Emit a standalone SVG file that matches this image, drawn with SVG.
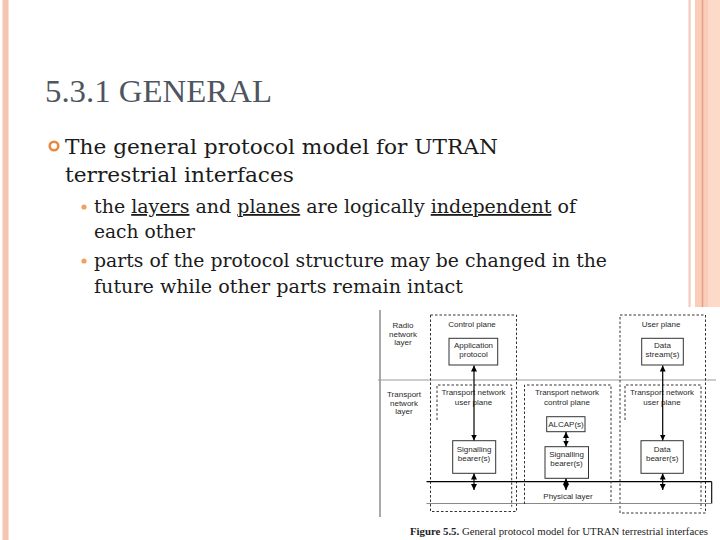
<svg xmlns="http://www.w3.org/2000/svg" width="720" height="540" viewBox="0 0 720 540">
<style>
.body{font-family:"DejaVu Serif","Liberation Serif",serif;fill:#1b1b1b}
.title{font-family:"Liberation Serif","DejaVu Serif",serif;fill:#4e5560;font-size:32px}
.u{text-decoration:underline}
.lbl{font-family:"Liberation Sans",Arial,sans-serif;font-size:8px;fill:#2a2a2a;text-anchor:middle}
.box{fill:#fff;stroke:#333;stroke-width:1}
.dash{fill:none;stroke:#333;stroke-width:1;stroke-dasharray:2.5,2}
.arr{stroke:#000;stroke-width:1.2;fill:none;marker-start:url(#ah);marker-end:url(#ah)}
.cap{font-family:"Liberation Serif","Times New Roman",serif;font-size:9.5px;fill:#222}
</style>
<defs>
<marker id="ah" viewBox="0 0 6 6" refX="6" refY="3" markerWidth="6" markerHeight="6" markerUnits="userSpaceOnUse" orient="auto-start-reverse">
<path d="M0,0 L6,3 L0,6 z" fill="#000"/>
</marker>
</defs>
<rect width="720" height="540" fill="#fff"/>
<!-- decorative borders -->
<rect x="2.5" y="0" width="6" height="540" fill="#f6c4b1"/>
<rect x="688.5" y="0" width="2.2" height="540" fill="#f4cabb"/>
<rect x="695" y="0" width="25" height="540" fill="#fbcdb8"/>
<rect x="708" y="0" width="12" height="540" fill="#fcd9c9"/>
<rect x="701.7" y="0" width="1.6" height="540" fill="#e9a185"/>
<!-- slide text -->
<text class="title" x="45" y="102" textLength="227" lengthAdjust="spacingAndGlyphs">5.3.1 GENERAL</text>
<circle cx="54" cy="146" r="4.3" fill="#fff" stroke="#e8893e" stroke-width="2.6"/>
<text class="body" font-size="21" x="65" y="154" textLength="433" lengthAdjust="spacingAndGlyphs">The general protocol model for UTRAN</text>
<text class="body" font-size="21" x="65" y="182" textLength="229" lengthAdjust="spacingAndGlyphs">terrestrial interfaces</text>
<circle cx="84" cy="207" r="2.6" fill="#f0a064"/>
<text class="body" font-size="18" x="94" y="213" textLength="482" lengthAdjust="spacingAndGlyphs">the <tspan class="u">layers</tspan> and <tspan class="u">planes</tspan> are logically <tspan class="u">independent</tspan> of</text>
<text class="body" font-size="18" x="94" y="238" textLength="101" lengthAdjust="spacingAndGlyphs">each other</text>
<circle cx="84" cy="261" r="2.6" fill="#f0a064"/>
<text class="body" font-size="18" x="94" y="267" textLength="513" lengthAdjust="spacingAndGlyphs">parts of the protocol structure may be changed in the</text>
<text class="body" font-size="18" x="94" y="293" textLength="369" lengthAdjust="spacingAndGlyphs">future while other parts remain intact</text>
<!-- figure area -->
<rect x="375" y="307" width="345" height="233" fill="#fff"/>
<g id="layer-lines">
<line x1="380" y1="310" x2="380" y2="517" stroke="#555" stroke-width="1"/>
<line x1="378" y1="380" x2="716" y2="380" stroke="#9a9a9a" stroke-width="1"/>
<text class="lbl" x="403" y="328">Radio</text>
<text class="lbl" x="403" y="336.5">network</text>
<text class="lbl" x="403" y="345">layer</text>
<text class="lbl" x="404" y="397">Transport</text>
<text class="lbl" x="404" y="405.5">network</text>
<text class="lbl" x="404" y="414">layer</text>
</g>
<g id="control-plane">
<rect class="dash" x="430.5" y="315" width="86" height="196.5"/>
<text class="lbl" x="472" y="327">Control plane</text>
</g>
<g id="user-plane">
<rect class="dash" x="620" y="315" width="85.5" height="198"/>
<text class="lbl" x="661" y="327">User plane</text>
</g>
<g id="physical-layer">
<line x1="426.5" y1="481.7" x2="711.7" y2="481.7" stroke="#000" stroke-width="1.3"/>
<line x1="711.7" y1="481.7" x2="711.7" y2="503.5" stroke="#000" stroke-width="1.1"/>
<line x1="426.5" y1="503.5" x2="711.7" y2="503.5" stroke="#888" stroke-width="1"/>
<text class="lbl" x="568" y="499">Physical layer</text>
</g>
<g id="tn-user-plane-left">
<path class="dash" d="M437,420 V385 H511.7 V506.7"/>
<text class="lbl" x="473.5" y="395">Transport network</text>
<text class="lbl" x="473.5" y="404.5">user plane</text>
</g>
<g id="tn-control-plane">
<path class="dash" d="M524.5,504 V385 H611 V504"/>
<text class="lbl" x="567" y="395">Transport network</text>
<text class="lbl" x="567" y="404.5">control plane</text>
</g>
<g id="tn-user-plane-right">
<path class="dash" d="M625,420 V385 H701 V509"/>
<text class="lbl" x="662" y="395">Transport network</text>
<text class="lbl" x="662" y="404.5">user plane</text>
</g>
<g id="application-protocol">
<rect class="box" x="449" y="338.3" width="48.7" height="26.7"/>
<text class="lbl" x="473.5" y="348">Application</text>
<text class="lbl" x="473.5" y="357">protocol</text>
</g>
<g id="data-streams">
<rect class="box" x="641.7" y="338.3" width="41.6" height="26.7"/>
<text class="lbl" x="662.5" y="348">Data</text>
<text class="lbl" x="662.5" y="357">stream(s)</text>
</g>
<g id="alcap">
<rect class="box" x="546.7" y="416.7" width="38.3" height="15"/>
<text class="lbl" x="566" y="427.3">ALCAP(s)</text>
</g>
<g id="signalling-bearer-left">
<rect class="box" x="452.7" y="440.7" width="43" height="32.6"/>
<text class="lbl" x="474" y="452">Signalling</text>
<text class="lbl" x="474" y="461">bearer(s)</text>
</g>
<g id="signalling-bearer-mid">
<rect class="box" x="545" y="446.7" width="43.5" height="31.6"/>
<text class="lbl" x="566.5" y="457">Signalling</text>
<text class="lbl" x="566.5" y="466">bearer(s)</text>
</g>
<g id="data-bearers">
<rect class="box" x="641" y="440.7" width="42.3" height="32.6"/>
<text class="lbl" x="662.2" y="452">Data</text>
<text class="lbl" x="662.2" y="461">bearer(s)</text>
</g>
<g id="connectors">
<line class="arr" x1="474" y1="365.5" x2="474" y2="440.5"/>
<line class="arr" x1="474" y1="473.5" x2="474" y2="490"/>
<line class="arr" x1="566" y1="432" x2="566" y2="446.5"/>
<line class="arr" x1="566" y1="478.5" x2="566" y2="490"/>
<line class="arr" x1="662.7" y1="365.5" x2="662.7" y2="440.5"/>
<line class="arr" x1="662.7" y1="473.5" x2="662.7" y2="490"/>
</g>
<text class="cap" x="410" y="535" textLength="298" lengthAdjust="spacingAndGlyphs"><tspan font-weight="bold">Figure 5.5.</tspan>  General protocol model for UTRAN terrestrial interfaces</text>
</svg>
